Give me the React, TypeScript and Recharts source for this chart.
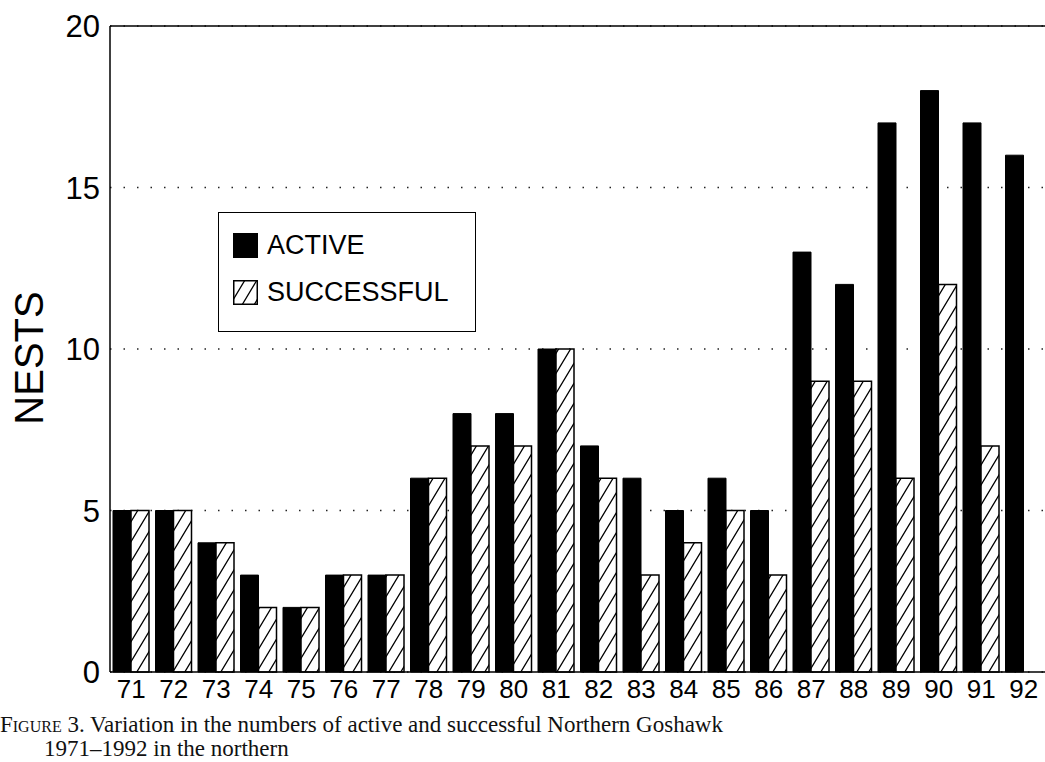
import { BarChart, Bar, XAxis, YAxis, ReferenceLine, CartesianGrid } from 'recharts';

const years = ['71', '72', '73', '74', '75', '76', '77', '78', '79', '80', '81', '82', '83', '84', '85', '86', '87', '88', '89', '90', '91', '92'];
const active = [5, 5, 4, 3, 2, 3, 3, 6, 8, 8, 10, 7, 6, 5, 6, 5, 13, 12, 17, 18, 17, 16];
const successful = [5, 5, 4, 2, 2, 3, 3, 6, 7, 7, 10, 6, 3, 4, 5, 3, 9, 9, 6, 12, 7, null];
const yTicks = [0, 5, 10, 15, 20];

const data = years.map((y, i) => ({ year: y, active: active[i], successful: successful[i] }));

const FONT = '"Liberation Sans", Arial, Helvetica, sans-serif';
const SERIF = '"Liberation Serif", "Times New Roman", serif';

function HatchDefs() {
    return (
        <defs>
            <pattern id="hatch" patternUnits="userSpaceOnUse" width="12" height="20">
                <rect width="12" height="20" fill="#fff" />
                <path d="M0,20 L12,0 M-6,10 L6,-10 M6,30 L18,10" stroke="#000" strokeWidth="1.3" />
            </pattern>
        </defs>
    );
}

function LegendBox() {
    return (
        <div style={{ width: 258, height: 120, border: '1.5px solid #000', background: '#fff', boxSizing: 'border-box', fontFamily: FONT, fontSize: 27, color: '#000', position: 'relative' }}>
            <div style={{ position: 'absolute', left: 14, top: 17, display: 'flex', alignItems: 'center' }}>
                <span style={{ width: 25, height: 25, background: '#000', display: 'inline-block', marginRight: 9 }} />
                <span>ACTIVE</span>
            </div>
            <div style={{ position: 'absolute', left: 14, top: 64, display: 'flex', alignItems: 'center' }}>
                <svg width="25" height="25" style={{ marginRight: 9 }}>
                    <defs>
                        <pattern id="hatchLegend" patternUnits="userSpaceOnUse" width="12" height="20">
                            <rect width="12" height="20" fill="#fff" />
                            <path d="M0,20 L12,0 M-6,10 L6,-10 M6,30 L18,10" stroke="#000" strokeWidth="1.3" />
                        </pattern>
                    </defs>
                    <rect x="0.75" y="0.75" width="23.5" height="23.5" fill="url(#hatchLegend)" stroke="#000" strokeWidth="1.5" />
                </svg>
                <span>SUCCESSFUL</span>
            </div>
        </div>
    );
}

const NestsLabel = () => (
    <text x={29} y={358} transform="rotate(-90 29 358)" textAnchor="middle" dominantBaseline="central" fontFamily={FONT} fontSize={40} fill="#000">
        NESTS
    </text>
);

export default function App() {
    return (
        <div style={{ position: 'absolute', left: 0, top: 0, width: 1045, height: 762, overflow: 'hidden', background: '#fff' }}>
            <BarChart width={1080} height={762} data={data} margin={{ top: 26, right: 35, bottom: 50, left: 0 }} barCategoryGap={3} barGap={0}>
                <HatchDefs />
                <CartesianGrid vertical={false} stroke="#222" strokeWidth={1.5} strokeDasharray="1.5 12" />
                <XAxis dataKey="year" tickLine={false} tickSize={0} tickMargin={8} axisLine={{ stroke: '#000', strokeWidth: 1.5 }} interval={0} height={40}
                    tick={{ fontFamily: FONT, fontSize: 26, fill: '#000' }} />
                <YAxis domain={[0, 20]} ticks={yTicks} tickLine={false} tickSize={0} tickMargin={10} width={110} axisLine={{ stroke: '#000', strokeWidth: 1.5 }}
                    tick={{ fontFamily: FONT, fontSize: 31, fill: '#000' }} label={<NestsLabel />} />
                <ReferenceLine y={20} stroke="#000" strokeWidth={1.5} />
                <Bar dataKey="active" fill="#000" stroke="#000" strokeWidth={1} isAnimationActive={false} />
                <Bar dataKey="successful" fill="url(#hatch)" stroke="#000" strokeWidth={1.5} isAnimationActive={false} />
            </BarChart>
            <div style={{ position: 'absolute', left: 218, top: 212 }}>
                <LegendBox />
            </div>
            <div style={{ position: 'absolute', left: 0, top: 713, fontFamily: SERIF, fontSize: 23, lineHeight: '24px', color: '#111', whiteSpace: 'nowrap' }}>
                <span style={{ fontVariant: 'small-caps' }}>Figure</span> 3.  Variation in the numbers of active and successful Northern Goshawk
            </div>
            <div style={{ position: 'absolute', left: 44, top: 737, fontFamily: SERIF, fontSize: 23, lineHeight: '24px', color: '#111', whiteSpace: 'nowrap' }}>
                1971–1992 in the northern
            </div>
        </div>
    );
}
